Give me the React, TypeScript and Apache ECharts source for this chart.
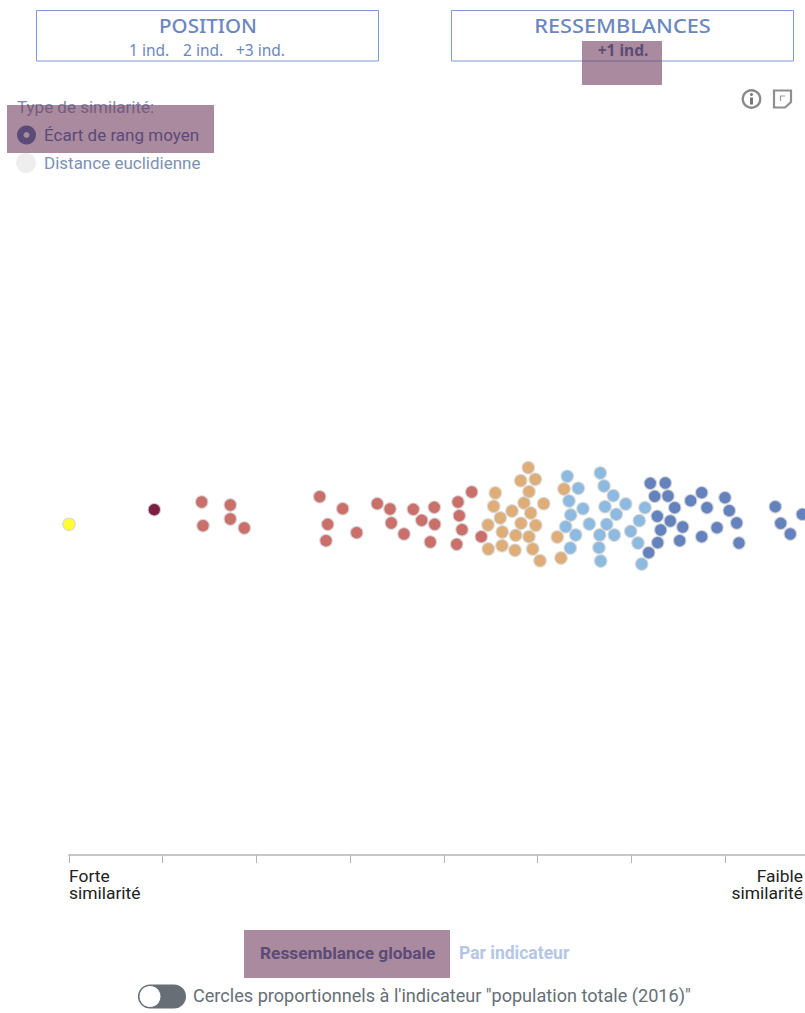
import React, { useEffect, useRef } from "react";
import * as echarts from "echarts";

const tickStep = 93.7;
const strongest = [[0, 524.3]];
const closest = [[85.3, 509.7]];
const near = [
  [132.7, 502], [161.3, 505], [134, 525.7], [161.3, 519], [175.3, 528],
  [250.7, 496.7], [273.7, 508.7], [258.7, 524.3], [257, 540.7], [287.7, 532.7],
  [308.3, 503.7], [321, 509], [322.3, 523], [335, 534], [344.3, 509.3],
  [352.7, 520.3], [365.3, 507.3], [365.7, 524.3], [361.3, 542], [389, 502],
  [390.3, 515.7], [393, 529.7], [387.7, 544.3], [402.7, 492], [412.3, 536.7],
];
const middle = [
  [459.3, 467.7], [451.7, 480.7], [466.3, 479.3], [460, 491.7], [426.3, 493],
  [424.7, 506.3], [455, 503], [474.7, 503.7], [443, 511], [461.7, 513],
  [431.3, 518], [419, 525], [452, 523.3], [466.7, 525.3], [433.3, 532],
  [446.7, 535.3], [460, 536.7], [419.3, 549], [433, 545.7], [446, 550.3],
  [463.7, 549], [471, 560.7], [495, 489], [488.3, 537], [492, 558],
];
const far = [
  [498.3, 476.3], [509.3, 488.3], [500, 501], [514, 508.7], [501.7, 515],
  [496.7, 526.7], [506.7, 535], [501.3, 548], [531.3, 473], [535, 486],
  [544.3, 495.7], [556.7, 504], [536, 506.7], [547.3, 514.3], [520.3, 524],
  [537.7, 524.3], [530.7, 535], [545.3, 535], [530, 547.7], [531.7, 561],
  [576, 507.7], [570.3, 520.7], [561.7, 531.3], [569, 543], [572.7, 564],
];
const farthest = [
  [581.3, 483.3], [596.3, 483], [585.7, 496.3], [599, 496], [605.7, 507.7],
  [588.3, 516.3], [601.3, 521], [613.7, 527], [591.7, 530], [588.7, 542.7],
  [610.7, 540.7], [579.7, 552.7], [621.7, 500.7], [632.7, 492.7], [638, 507.7],
  [656, 497.7], [660.3, 510.7], [667.7, 523], [648, 527.7], [632.7, 536.7],
  [670, 543], [706.3, 506.7], [711.7, 523.3], [721.3, 534], [733.3, 514.3],
];

const groups: [number[][], string][] = [
  [strongest, "#ffff33"],
  [closest, "#7d1f45"],
  [near, "#cb6f6b"],
  [middle, "#dfae78"],
  [far, "#8cbae0"],
  [farthest, "#6482bd"],
];

const font = "Roboto";
const plex = "'Noto Sans'";
const blue = "#6b87bf";
const overlay = "rgba(113,60,93,0.6)";

const label = (text: string, x: number, y: number, size: number, fill: string, extra: any = {}) => ({
  type: "text",
  x,
  y,
  z: extra.z ?? 10,
  scaleX: extra.scaleX ?? 1,
  style: {
    text,
    fontFamily: extra.family ?? font,
    fontSize: size,
    fontWeight: extra.weight ?? "normal",
    fill,
    textAlign: extra.align ?? "left",
    textVerticalAlign: "middle",
  },
});

const box = (x: number, w: number) => ({
  type: "rect",
  z: 5,
  shape: { x, y: 10.5, width: w, height: 50.5 },
  style: { fill: "none", stroke: "#7f9ad0", lineWidth: 1 },
});

const mask = (x: number, y: number, width: number, height: number) => ({
  type: "rect",
  z: 100,
  shape: { x, y, width, height },
  style: { fill: overlay },
});

export default function App() {
  const ref = useRef<HTMLDivElement>(null);
  useEffect(() => {
    const chart = echarts.init(ref.current!, undefined, { renderer: "svg" });
    chart.setOption({
      animation: false,
      backgroundColor: "#ffffff",
      grid: { left: 69, right: 0, top: 0, bottom: 158, containLabel: false },
      xAxis: {
        type: "value",
        min: 0,
        max: 736,
        interval: tickStep,
        position: "bottom",
        splitLine: { show: false },
        axisLabel: { show: false },
        axisLine: { show: true, onZero: false, lineStyle: { color: "#c6c6c6", width: 2 } },
        axisTick: { show: true, length: 8, lineStyle: { color: "#b4b4b4", width: 1 } },
      },
      yAxis: {
        type: "value",
        inverse: true,
        min: 0,
        max: 855,
        show: false,
      },
      series: groups.map(([data, color]) => ({
        type: "scatter",
        data,
        clip: false,
        symbol: "circle",
        symbolSize: 12.5,
        itemStyle: { color, borderColor: "rgba(215,215,215,0.85)", borderWidth: 1.2, opacity: 1 },
      })),
      graphic: [
        box(36.5, 342),
        box(451.5, 342),
        label("POSITION", 208, 25, 20.5, blue, { align: "center", family: plex, weight: 500 }),
        label("1 ind.", 129, 50, 15.5, blue, { family: plex }),
        label("2 ind.", 183, 50, 15.5, blue, { family: plex }),
        label("+3 ind.", 236, 50, 15.5, blue, { family: plex }),
        label("RESSEMBLANCES", 622.5, 25, 20.5, blue, { align: "center", family: plex, weight: 500, scaleX: 1.06 }),
        label("+1 ind.", 623, 50, 15.5, "#37619f", { align: "center", family: plex, weight: "bold" }),
        label("Type de similarité:", 17, 106.5, 17, "#7b8fb0"),
        { type: "circle", z: 10, shape: { cx: 26.5, cy: 135, r: 9.5 }, style: { fill: "#37619f" } },
        { type: "circle", z: 11, shape: { cx: 26.5, cy: 135, r: 3 }, style: { fill: "#ffffff" } },
        label("Écart de rang moyen", 44, 134.5, 17, "#37619f"),
        { type: "circle", z: 10, shape: { cx: 26, cy: 163, r: 10 }, style: { fill: "#eeeeee" } },
        label("Distance euclidienne", 44, 162.5, 17, "#7b90b4"),
        { type: "circle", z: 10, shape: { cx: 751.5, cy: 99, r: 8.7 }, style: { fill: "none", stroke: "#8a8a8a", lineWidth: 2.4 } },
        { type: "circle", z: 10, shape: { cx: 751.5, cy: 94.5, r: 1.5 }, style: { fill: "#777777" } },
        { type: "rect", z: 10, shape: { x: 750, y: 97.5, width: 3, height: 7 }, style: { fill: "#777777" } },
        {
          type: "polygon", z: 10,
          shape: { points: [[774, 90.5], [791, 90.5], [791, 102], [785, 107.5], [774, 107.5]] },
          style: { fill: "none", stroke: "#8f8f8f", lineWidth: 2.2 },
        },
        {
          type: "polyline", z: 10,
          shape: { points: [[780.5, 101], [780.5, 96], [785, 96]] },
          style: { fill: "none", stroke: "#999999", lineWidth: 1.2 },
        },
        label("Forte", 69, 876, 16, "#222222", { scaleX: 1.09 }),
        label("similarité", 69, 893, 16, "#222222", { scaleX: 1.09 }),
        label("Faible", 803, 876, 16, "#222222", { align: "right", scaleX: 1.09 }),
        label("similarité", 803, 893, 16, "#222222", { align: "right", scaleX: 1.09 }),
        label("Ressemblance globale", 260, 953, 17.3, "#37619f", { weight: "bold" }),
        label("Par indicateur", 459, 953, 17.5, "#b5c6e6", { weight: "bold" }),
        { type: "rect", z: 10, shape: { x: 138, y: 984.5, width: 48, height: 24, r: 12 }, style: { fill: "#676e76" } },
        { type: "circle", z: 11, shape: { cx: 150, cy: 996.5, r: 11 }, style: { fill: "#ffffff", stroke: "#676e76", lineWidth: 1 } },
        label("Cercles proportionnels à l'indicateur \"population totale (2016)\"", 193, 995.5, 18.1, "#666e76"),
        mask(7, 105, 207, 48),
        mask(582, 41, 80, 44),
        mask(244, 930, 206, 48),
      ],
    });
    return () => chart.dispose();
  }, []);
  return (
    <div
      ref={ref}
      style={{ position: "fixed", left: 0, top: 0, width: 805, height: 1013 }}
    />
  );
}
